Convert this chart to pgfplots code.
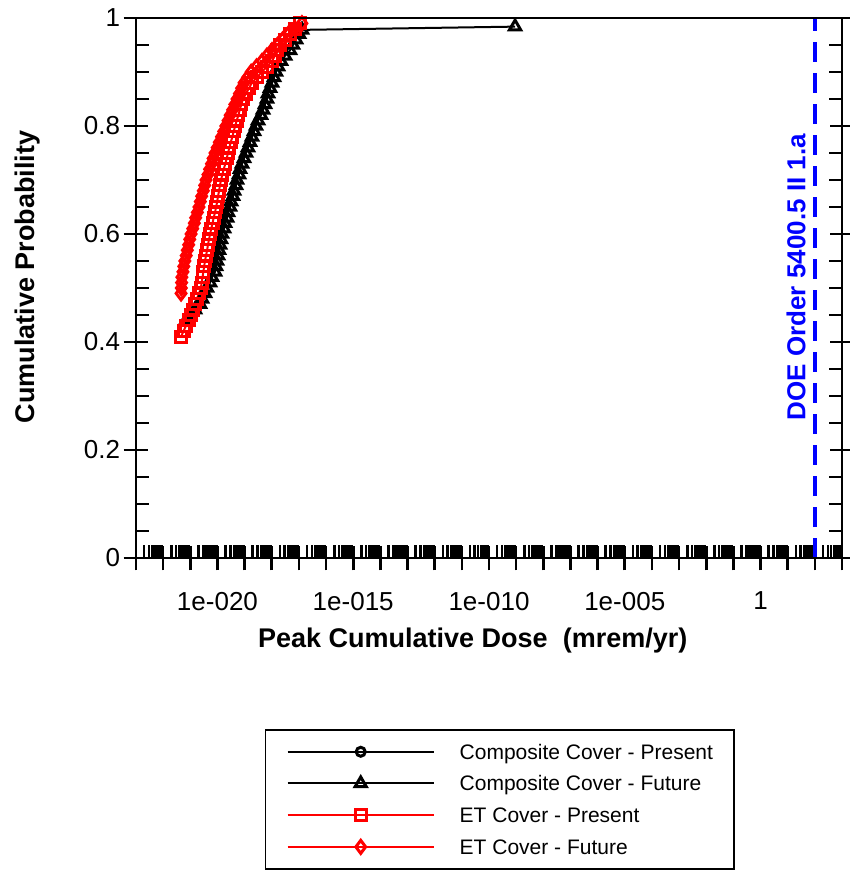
\documentclass[border=0pt]{standalone}
\usepackage{fontspec}
\setmainfont{Liberation Sans}
\usepackage{pgfplots}
\pgfplotsset{compat=1.18}

% minor ticks 2..9 in every decade of the log axis
\def\minorxlist{1e-23}
\foreach \e in {-23,...,2}{\foreach \m in {2,...,9}{\xdef\minorxlist{\minorxlist,\m e\e}}}

\pgfplotsset{
    spinestyle/.style={
        tick align=center,
        major tick length=25pt, minor tick length=13pt,
        tick style={black, line width=2.6pt},
        minor tick style={black, line width=2.6pt},
        major tick style={black, line width=2.6pt},
        axis line style={line width=2.2pt},
    },
}

\begin{document}
\begin{tikzpicture}
\begin{axis}[
    spinestyle,
    at={(0,0)}, anchor=south west,
    scale only axis, width=706pt, height=540pt,
    xmode=log, xmin=1e-23, xmax=1e3, ymin=0, ymax=1,
    xtick={1e-23,1e-22,1e-21,1e-20,1e-19,1e-18,1e-17,1e-16,1e-15,1e-14,1e-13,1e-12,1e-11,1e-10,1e-9,1e-8,1e-7,1e-6,1e-5,1e-4,1e-3,1e-2,1e-1,1,1e1,1e2,1e3},
    xticklabels={,,,1e-020,,,,,1e-015,,,,,1e-010,,,,,1e-005,,,,,1,,,},
    minor xtick/.expanded={\minorxlist},
    ytick={0,0.2,0.4,0.6,0.8,1},
    minor ytick={0.05,0.1,0.15,0.25,0.3,0.35,0.45,0.5,0.55,0.65,0.7,0.75,0.85,0.9,0.95},
    xtick pos=bottom, ytick pos=left,
    minor x tick style={yshift=6.5pt},
    minor y tick style={xshift=6.5pt},
    /pgf/number format/assume math mode=true,
    ticklabel style={font=\fontsize{26}{30}\selectfont},
    xticklabel style={yshift=-18pt},
    xlabel={Peak Cumulative Dose\ \ (mrem/yr)},
    ylabel={Cumulative Probability},
    xlabel style={at={(axis description cs:0.477,-0.152)}, anchor=center, font=\bfseries\fontsize{27}{32}\selectfont},
    ylabel style={at={(axis description cs:-0.153,0.52)}, anchor=center, font=\bfseries\fontsize{27}{32}\selectfont},
    clip=false,
    legend style={at={(axis description cs:0.1827,-0.3167)}, anchor=north west,
        draw=black, line width=1.5pt, fill=white,
        inner xsep=21pt, inner ysep=12.5pt, row sep=12.7pt, column sep=25pt,
        font=\fontsize{21}{25}\selectfont,
        nodes={inner sep=0pt, text height=17pt, text depth=2pt}},
    legend cell align=left,
    legend image code/.code={\draw[mark repeat=2,mark phase=2,#1] plot coordinates {(0pt,0pt) (73pt,0pt) (146pt,0pt)};},
]
% Composite Cover - Present: no nonzero doses shown in the chart
\addlegendimage{black, line width=2pt, mark=o, mark size=4.5pt, mark options={line width=3pt, solid}}
\addlegendentry{Composite Cover - Present}

\addplot[black, line width=2pt, mark=triangle, mark size=6.5pt, mark options={line width=3pt, solid}] coordinates {
(6.95e-22,0.44) (9.75e-22,0.45) (1.49e-21,0.46) (2.28e-21,0.47) (2.70e-21,0.48)
(3.48e-21,0.49) (4.12e-21,0.50) (5.32e-21,0.51) (6.30e-21,0.52) (8.13e-21,0.53)
(8.85e-21,0.54) (9.62e-21,0.55) (1.05e-20,0.56) (1.14e-20,0.57) (1.24e-20,0.58)
(1.35e-20,0.59) (1.47e-20,0.60) (1.74e-20,0.61) (1.90e-20,0.62) (2.25e-20,0.63)
(2.45e-20,0.64) (2.90e-20,0.65) (3.16e-20,0.66) (3.74e-20,0.67) (4.07e-20,0.68)
(4.82e-20,0.69) (5.25e-20,0.70) (6.22e-20,0.71) (6.78e-20,0.72) (8.02e-20,0.73)
(9.51e-20,0.74) (1.13e-19,0.75) (1.33e-19,0.76) (1.58e-19,0.77) (1.87e-19,0.78)
(2.22e-19,0.79) (2.63e-19,0.80) (3.12e-19,0.81) (4.02e-19,0.82) (4.76e-19,0.83)
(5.64e-19,0.84) (6.68e-19,0.85) (7.28e-19,0.86) (8.63e-19,0.87) (1.02e-18,0.88)
(1.21e-18,0.89) (1.43e-18,0.90) (1.70e-18,0.91) (2.19e-18,0.92) (3.08e-18,0.93)
(4.70e-18,0.94) (6.06e-18,0.95) (7.82e-18,0.96) (1.01e-17,0.97) (1.30e-17,0.978)
(9.12e-10,0.984)
};
\addlegendentry{Composite Cover - Future}

\addplot[red, line width=2pt, mark=square, mark size=5.5pt, mark options={line width=3pt, solid}] coordinates {
(4.57e-22,0.41) (5.62e-22,0.42) (6.92e-22,0.43) (8.71e-22,0.44) (1.07e-21,0.45)
(1.26e-21,0.46) (1.48e-21,0.47) (1.74e-21,0.48) (2.09e-21,0.49) (2.45e-21,0.50)
(2.63e-21,0.51) (2.82e-21,0.52) (3.02e-21,0.53) (3.24e-21,0.54) (3.47e-21,0.55)
(3.80e-21,0.56) (4.17e-21,0.57) (4.47e-21,0.58) (4.90e-21,0.59) (5.37e-21,0.60)
(5.89e-21,0.61) (6.61e-21,0.62) (7.24e-21,0.63) (8.13e-21,0.64) (8.91e-21,0.65)
(9.77e-21,0.66) (1.05e-20,0.67) (1.15e-20,0.68) (1.23e-20,0.69) (1.35e-20,0.70)
(1.51e-20,0.71) (1.70e-20,0.72) (1.95e-20,0.73) (2.19e-20,0.74) (2.45e-20,0.75)
(2.75e-20,0.76) (3.09e-20,0.77) (3.55e-20,0.78) (3.98e-20,0.79) (4.47e-20,0.80)
(5.13e-20,0.81) (5.89e-20,0.82) (6.61e-20,0.83) (7.59e-20,0.84) (8.71e-20,0.85)
(1.12e-19,0.86) (1.45e-19,0.87) (1.86e-19,0.88) (2.82e-19,0.89) (4.37e-19,0.90)
(6.61e-19,0.91) (1.02e-18,0.92) (1.29e-18,0.93) (1.58e-18,0.94) (2.00e-18,0.95)
(3.02e-18,0.96) (4.68e-18,0.97) (7.08e-18,0.98) (1.10e-17,0.99)
};
\addlegendentry{ET Cover - Present}

\addplot[red, line width=2pt, mark=diamond, mark size=6.5pt, mark options={line width=3pt, solid}] coordinates {
(4.57e-22,0.49) (4.68e-22,0.50) (4.79e-22,0.51) (4.90e-22,0.52) (5.37e-22,0.53)
(5.75e-22,0.54) (6.31e-22,0.55) (7.08e-22,0.56) (7.76e-22,0.57) (8.71e-22,0.58)
(9.55e-22,0.59) (1.07e-21,0.60) (1.23e-21,0.61) (1.41e-21,0.62) (1.58e-21,0.63)
(1.82e-21,0.64) (2.09e-21,0.65) (2.34e-21,0.66) (2.63e-21,0.67) (3.02e-21,0.68)
(3.39e-21,0.69) (3.80e-21,0.70) (4.47e-21,0.71) (5.13e-21,0.72) (6.03e-21,0.73)
(6.92e-21,0.74) (8.13e-21,0.75) (9.77e-21,0.76) (1.17e-20,0.77) (1.41e-20,0.78)
(1.70e-20,0.79) (2.04e-20,0.80) (2.45e-20,0.81) (2.95e-20,0.82) (3.63e-20,0.83)
(4.37e-20,0.84) (5.25e-20,0.85) (6.46e-20,0.86) (7.76e-20,0.87) (9.55e-20,0.88)
(1.29e-19,0.89) (1.74e-19,0.90) (2.75e-19,0.91) (4.37e-19,0.92) (6.61e-19,0.93)
(1.02e-18,0.94) (1.62e-18,0.95) (2.51e-18,0.96) (3.98e-18,0.97) (7.08e-18,0.98)
(1.29e-17,0.99)
};
\addlegendentry{ET Cover - Future}

% DOE Order 5400.5 limit: 100 mrem/yr
\addplot[blue, line width=3.5pt, dash pattern=on 20pt off 11pt, forget plot] coordinates {(100,0) (100,1)};
\node[rotate=90, text=blue, font=\bfseries\fontsize{26}{30}\selectfont] at (rel axis cs:0.935,0.52) {DOE Order 5400.5 II 1.a};
\end{axis}
% right-hand spine ticks
\begin{axis}[
    spinestyle,
    at={(0,0)}, anchor=south west,
    scale only axis, width=706pt, height=540pt,
    xmin=0, xmax=1, ymin=0, ymax=1,
    xtick=\empty, ytick pos=right, yticklabels={},
    ytick={0,0.2,0.4,0.6,0.8,1},
    minor ytick={0.05,0.1,0.15,0.25,0.3,0.35,0.45,0.5,0.55,0.65,0.7,0.75,0.85,0.9,0.95},
    minor y tick style={xshift=-6.5pt},
]
\end{axis}
\pgfresetboundingbox
\path[use as bounding box] (-136pt,-316pt) rectangle (713pt,558pt);
\end{tikzpicture}
\end{document}
